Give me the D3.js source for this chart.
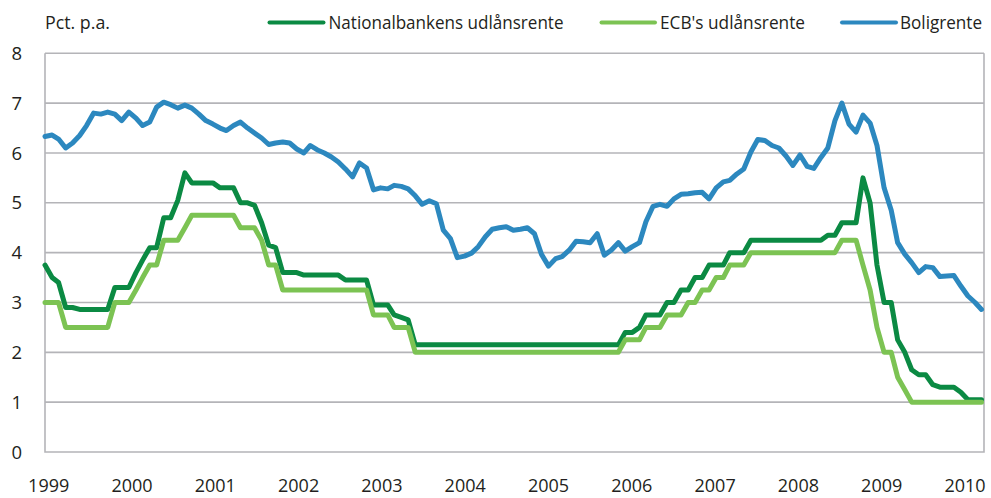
<!DOCTYPE html>
<html>
<head>
<meta charset="utf-8">
<script src="https://cdn.jsdelivr.net/npm/d3@7"></script>
<style>
  html, body { margin: 0; padding: 0; background: #fff; }
  svg { display: block; font-family: "Open Sans", "Noto Sans", sans-serif; }
</style>
</head>
<body>
<svg id="chart" width="991" height="498"></svg>
<script>
/* --- data: monthly, Jan 1999 .. Mar 2010 --- */
const months = d3.timeMonths(new Date(1999, 0, 1), new Date(2010, 3, 1));

const nationalbanken = [
  3.75, 3.5, 3.4, 2.9, 2.9, 2.86, 2.86, 2.86, 2.86, 2.86, 3.3, 3.3,
  3.3, 3.6, 3.85, 4.1, 4.1, 4.7, 4.7, 5.05, 5.6, 5.4, 5.4, 5.4,
  5.4, 5.3, 5.3, 5.3, 5.0, 5.0, 4.95, 4.6, 4.15, 4.1, 3.6, 3.6,
  3.6, 3.55, 3.55, 3.55, 3.55, 3.55, 3.55, 3.45, 3.45, 3.45, 3.45, 2.95,
  2.95, 2.95, 2.75, 2.7, 2.65, 2.15, 2.15, 2.15, 2.15, 2.15, 2.15, 2.15,
  2.15, 2.15, 2.15, 2.15, 2.15, 2.15, 2.15, 2.15, 2.15, 2.15, 2.15, 2.15,
  2.15, 2.15, 2.15, 2.15, 2.15, 2.15, 2.15, 2.15, 2.15, 2.15, 2.15, 2.4,
  2.4, 2.5, 2.75, 2.75, 2.75, 3.0, 3.0, 3.25, 3.25, 3.5, 3.5, 3.75,
  3.75, 3.75, 4.0, 4.0, 4.0, 4.25, 4.25, 4.25, 4.25, 4.25, 4.25, 4.25,
  4.25, 4.25, 4.25, 4.25, 4.35, 4.35, 4.6, 4.6, 4.6, 5.5, 5.0, 3.75,
  3.0, 3.0, 2.25, 2.0, 1.65, 1.55, 1.55, 1.35, 1.3, 1.3, 1.3, 1.2,
  1.05, 1.05, 1.05
];

const ecb = [
  3.0, 3.0, 3.0, 2.5, 2.5, 2.5, 2.5, 2.5, 2.5, 2.5, 3.0, 3.0,
  3.0, 3.25, 3.5, 3.75, 3.75, 4.25, 4.25, 4.25, 4.5, 4.75, 4.75, 4.75,
  4.75, 4.75, 4.75, 4.75, 4.5, 4.5, 4.5, 4.25, 3.75, 3.75, 3.25, 3.25,
  3.25, 3.25, 3.25, 3.25, 3.25, 3.25, 3.25, 3.25, 3.25, 3.25, 3.25, 2.75,
  2.75, 2.75, 2.5, 2.5, 2.5, 2.0, 2.0, 2.0, 2.0, 2.0, 2.0, 2.0,
  2.0, 2.0, 2.0, 2.0, 2.0, 2.0, 2.0, 2.0, 2.0, 2.0, 2.0, 2.0,
  2.0, 2.0, 2.0, 2.0, 2.0, 2.0, 2.0, 2.0, 2.0, 2.0, 2.0, 2.25,
  2.25, 2.25, 2.5, 2.5, 2.5, 2.75, 2.75, 2.75, 3.0, 3.0, 3.25, 3.25,
  3.5, 3.5, 3.75, 3.75, 3.75, 4.0, 4.0, 4.0, 4.0, 4.0, 4.0, 4.0,
  4.0, 4.0, 4.0, 4.0, 4.0, 4.0, 4.25, 4.25, 4.25, 3.75, 3.25, 2.5,
  2.0, 2.0, 1.5, 1.25, 1.0, 1.0, 1.0, 1.0, 1.0, 1.0, 1.0, 1.0,
  1.0, 1.0, 1.0
];

const boligrente = [
  6.33, 6.36, 6.28, 6.1, 6.2, 6.35, 6.55, 6.8, 6.78, 6.82, 6.78, 6.65,
  6.82, 6.7, 6.55, 6.62, 6.92, 7.02, 6.97, 6.9, 6.96, 6.9, 6.78, 6.65,
  6.58, 6.5, 6.45, 6.55, 6.62, 6.5, 6.4, 6.3, 6.17, 6.2, 6.22, 6.2,
  6.08, 6.0, 6.15, 6.06, 6.0, 5.92, 5.82, 5.68, 5.52, 5.8, 5.7, 5.26,
  5.3, 5.28, 5.35, 5.33, 5.28, 5.14, 4.97, 5.04, 4.98, 4.45, 4.28, 3.9,
  3.93, 3.99, 4.12, 4.32, 4.47, 4.5, 4.52, 4.45, 4.47, 4.5, 4.38, 3.97,
  3.73, 3.88, 3.92, 4.05, 4.23, 4.22, 4.2, 4.38, 3.95, 4.05, 4.2, 4.03,
  4.12, 4.2, 4.62, 4.93, 4.97, 4.93, 5.08, 5.17, 5.18, 5.2, 5.21, 5.08,
  5.3, 5.42, 5.45, 5.58, 5.68, 6.02, 6.27, 6.25, 6.15, 6.1, 5.94, 5.75,
  5.96, 5.73, 5.69, 5.91, 6.1, 6.65, 7.0, 6.58, 6.42, 6.76, 6.6, 6.15,
  5.3, 4.85, 4.2, 3.97, 3.8, 3.6, 3.72, 3.7, 3.52, 3.53, 3.54, 3.33,
  3.13, 3.0, 2.86
];

const yearLabels = ["1999", "2000", "2001", "2002", "2003", "2004",
                    "2005", "2006", "2007", "2008", "2009", "2010"];
const yTicks = [0, 1, 2, 3, 4, 5, 6, 7, 8];

const series = [
  { name: "Nationalbankens udlånsrente", values: nationalbanken, color: "#0b8a43" },
  { name: "ECB's udlånsrente",           values: ecb,            color: "#7cc353" },
  { name: "Boligrente",                  values: boligrente,     color: "#2c88bf" }
];

/* --- layout --- */
const plotL = 45, plotR = 984, plotT = 53.3, plotB = 452;
const svg = d3.select('#chart');
const grid = '#b4b4b8', ink = '#231f20';

const x = d3.scaleTime().domain(d3.extent(months)).range([plotL, 981.5]);
const y = d3.scaleLinear().domain([0, 8]).range([plotB, plotT]);
const xLab = d3.scalePoint().domain(yearLabels).range([48.7, 965]);

/* gridlines + frame */
svg.append('g').selectAll('line').data(yTicks.filter(d => d > 0)).join('line')
  .attr('x1', plotL).attr('x2', plotR)
  .attr('y1', d => y(d)).attr('y2', d => y(d))
  .style('stroke', grid).style('stroke-width', 1.6);
svg.append('path')
  .attr('d', `M${plotL},${y(8)}V${y(0)}H${plotR}V${y(8)}`)
  .style('fill', 'none').style('stroke', grid).style('stroke-width', 1.6);

/* y labels */
svg.append('g').selectAll('text').data(yTicks).join('text')
  .attr('x', 22).attr('y', d => y(d)).attr('dy', '.36em')
  .attr('text-anchor', 'end')
  .style('font-size', '18.5px').style('fill', ink)
  .text(d => d);

/* x labels */
svg.append('g').selectAll('text').data(yearLabels).join('text')
  .attr('x', d => xLab(d)).attr('y', 492)
  .attr('text-anchor', 'middle')
  .style('font-size', '18px').style('fill', ink)
  .text(d => d);

svg.append('text').attr('x', 45).attr('y', 28.5)
  .style('font-size', '18.5px').style('fill', ink)
  .attr('textLength', 65).attr('lengthAdjust', 'spacingAndGlyphs')
  .text('Pct. p.a.');

/* lines */
const line = d3.line().x((d, i) => x(months[i])).y(d => y(d));
svg.append('g').selectAll('path').data(series).join('path')
  .attr('d', d => line(d.values))
  .style('fill', 'none').style('stroke', d => d.color)
  .style('stroke-width', 5).style('stroke-linejoin', 'round').style('stroke-linecap', 'round');

/* legend */
const legendPos = [
  { x1: 269.5, x2: 323.5, tx: 328.5, tw: 235 },
  { x1: 601.5, x2: 655,   tx: 660,   tw: 145 },
  { x1: 842,   x2: 896,   tx: 900,   tw: 82 }
];
const lg = svg.append('g').selectAll('g').data(series).join('g');
lg.append('line')
  .attr('x1', (d, i) => legendPos[i].x1).attr('x2', (d, i) => legendPos[i].x2)
  .attr('y1', 22.5).attr('y2', 22.5)
  .style('stroke', d => d.color).style('stroke-width', 4).style('stroke-linecap', 'round');
lg.append('text')
  .attr('x', (d, i) => legendPos[i].tx).attr('y', 28.5)
  .attr('textLength', (d, i) => legendPos[i].tw).attr('lengthAdjust', 'spacingAndGlyphs')
  .style('font-size', '18.5px').style('fill', ink)
  .text(d => d.name);
</script>
</body>
</html>
